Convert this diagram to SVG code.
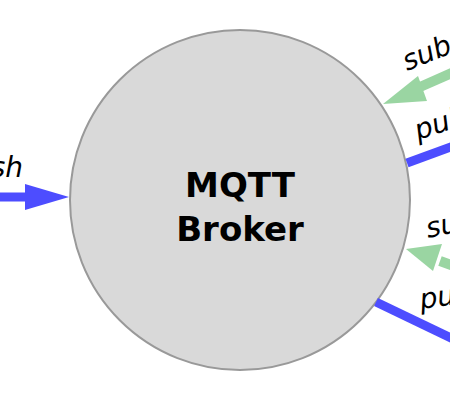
<svg xmlns="http://www.w3.org/2000/svg" width="450" height="400" viewBox="0 0 450 400">
<style>
.lbl{font-family:"DejaVu Sans",Verdana,sans-serif;font-style:italic;font-size:28px;fill:#000}
.pub{stroke:#4d4dff;stroke-width:9;fill:none}
.sub{stroke:#9ad5a2;stroke-width:10;fill:none}
.bh{fill:#4d4dff}
.gh{fill:#9ad5a2}
.title{font-family:"DejaVu Sans",Verdana,sans-serif;font-weight:bold;font-size:34px;fill:#000;text-anchor:middle}
</style>
<rect width="450" height="400" fill="#fff"/>
<g id="broker">
<circle cx="240" cy="200" r="170" fill="#d9d9d9" stroke="#999" stroke-width="2"/>
<text class="title" x="240" y="197">MQTT</text>
<text class="title" x="240" y="241">Broker</text>
</g>
<g id="connectors">
<line class="pub" x1="-10" y1="197" x2="30" y2="197"/>
<path class="bh" d="M69,197 L25,184 L25,210 z"/>
<path class="sub" d="M474,63 L420,87"/>
<path class="gh" d="M383,104 L418,76 L427,101 z"/>
<line class="pub" x1="407" y1="163" x2="470" y2="140"/>
<path class="sub" d="M481,276 L440,261"/>
<path class="gh" d="M406,249 L442,244 L433,271 z"/>
<line class="pub" x1="376" y1="302" x2="470" y2="347"/>
</g>
<g id="labels">
<text class="lbl" x="23" y="177" text-anchor="end">publish</text>
<text class="lbl" transform="translate(407,71) rotate(-22)">subscribe</text>
<text class="lbl" transform="translate(418,140) rotate(-18)">publish</text>
<text class="lbl" transform="translate(428,238) rotate(-12)">subscribe</text>
<text class="lbl" transform="translate(421,309) rotate(-8)">publish</text>
</g>
</svg>
